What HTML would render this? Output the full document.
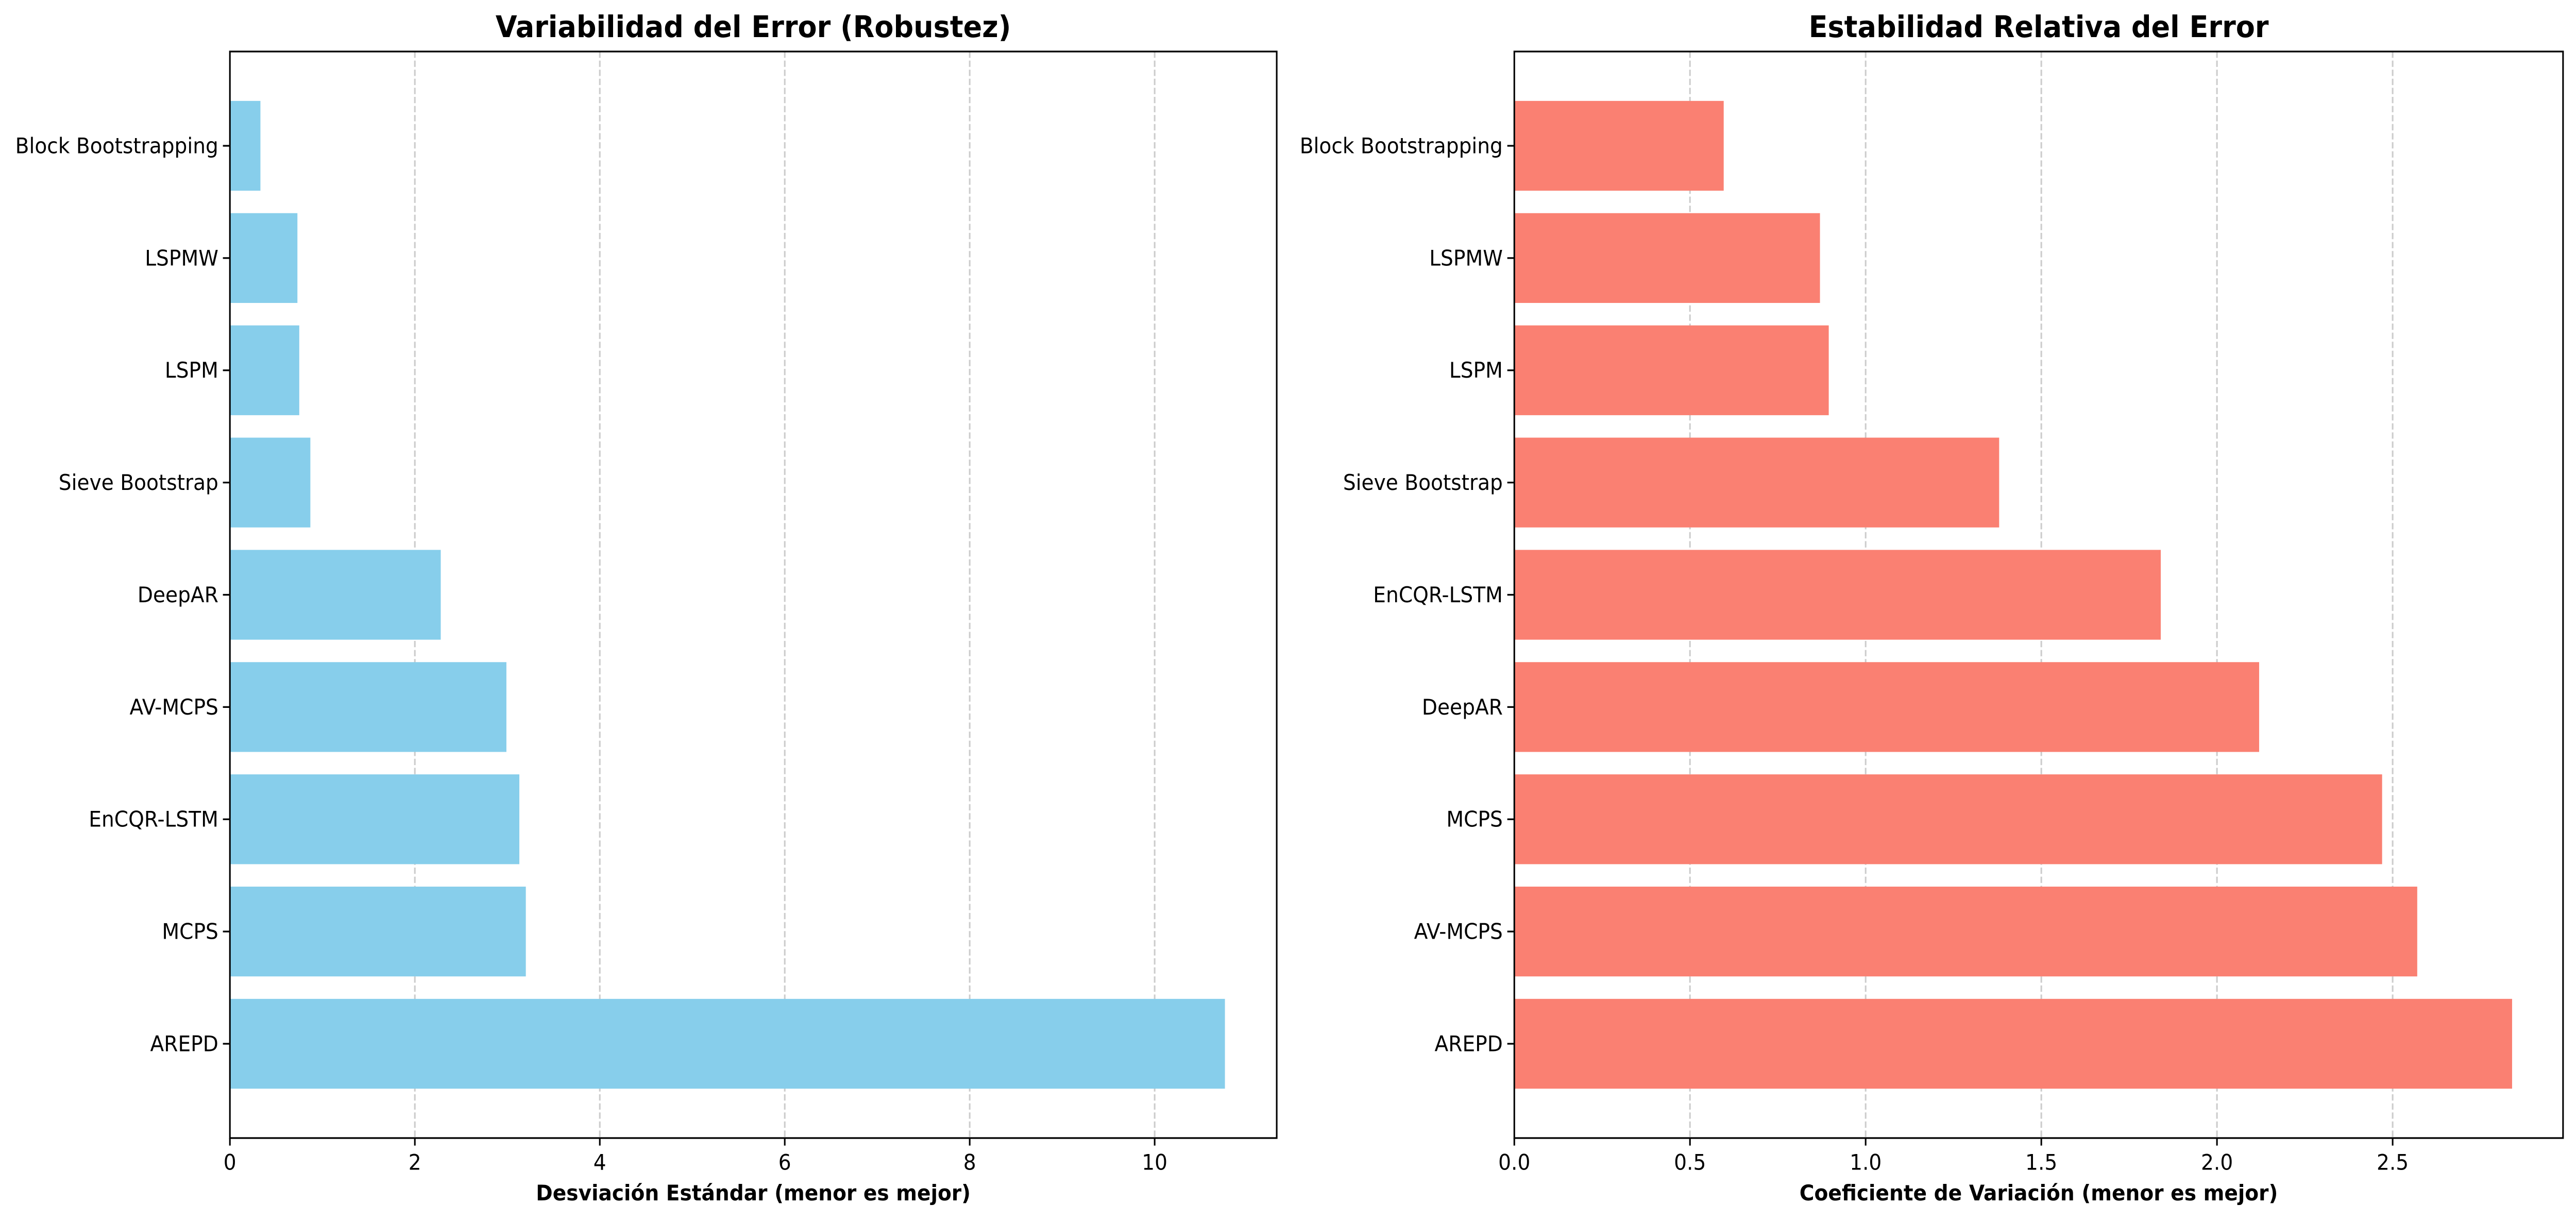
<!DOCTYPE html>
<html><head><meta charset="utf-8"><style>
html,body{margin:0;padding:0;background:#fff;width:100%;height:100%;overflow:hidden;}
#chart{display:block;width:100vw;height:100vh;}
svg text{font-family:"DejaVu Sans","Liberation Sans",sans-serif;}
</style></head><body>
<svg id="chart" viewBox="0 0 5367 2370" preserveAspectRatio="none" xmlns="http://www.w3.org/2000/svg"></svg>
<script>
const categories = ["AREPD","MCPS","EnCQR-LSTM","AV-MCPS","DeepAR","Sieve Bootstrap","LSPM","LSPMW","Block Bootstrapping"];
const stdValues = [10.76,3.2,3.13,2.99,2.28,0.87,0.75,0.73,0.33];
const cvCategories = ["AREPD","AV-MCPS","MCPS","DeepAR","EnCQR-LSTM","Sieve Bootstrap","LSPM","LSPMW","Block Bootstrapping"];
const cvValues = [2.84,2.57,2.47,2.12,1.84,1.38,0.895,0.87,0.596];
const leftTicks = [0,2,4,6,8,10];
const leftTickLabels = ["0","2","4","6","8","10"];
const rightTicks = [0,0.5,1,1.5,2,2.5];
const rightTickLabels = ["0.0","0.5","1.0","1.5","2.0","2.5"];

const NS="http://www.w3.org/2000/svg";
const svg=document.getElementById('chart');
function mk(tag,attrs,parent){const e=document.createElementNS(NS,tag);for(const k in attrs)e.setAttribute(k,attrs[k]);(parent||svg).appendChild(e);return e;}

function panel(cfg){
  const g=mk('g',{});
  
  
  const L=cfg.left,R=cfg.right,T=100,B=2209;
  const yMin=-0.84,yMax=8.84;
  const xs=v=>L+(v-0)/(cfg.xmax)*(R-L);
  const ys=v=>B-(v-yMin)/(yMax-yMin)*(B-T);
  cfg.ticks.forEach((t,i)=>{
    if(t===0)return;
    const gl=mk('line',{x1:xs(t),x2:xs(t),y1:T,y2:B,stroke:'#cccccc','stroke-width':3.3,'stroke-dasharray':'12.3,5.3'},g);
    
    
  });
  cfg.cats.forEach((c,i)=>{
    const x0=xs(0),x1=xs(cfg.vals[i]);
    const r=mk('rect',{x:x0,y:ys(i+0.4),width:x1-x0,height:ys(i-0.4)-ys(i+0.4),fill:cfg.color},g);
    
    
    const tk=mk('line',{x1:L-14.6,x2:L,y1:ys(i),y2:ys(i),stroke:'#000','stroke-width':3.3},g);
    
    
    const tl=mk('text',{x:L-24,y:ys(i),'font-size':42,'text-anchor':'end','dominant-baseline':'central',fill:'#000'},g);
    tl.textContent=c;
    
    
  });
  cfg.ticks.forEach((t,i)=>{
    const tk=mk('line',{x1:xs(t),x2:xs(t),y1:B,y2:B+14.6,stroke:'#000','stroke-width':3.3},g);
    
    
    const tl=mk('text',{x:xs(t),y:B+30,'font-size':42,'text-anchor':'middle','dominant-baseline':'hanging',fill:'#000'},g);
    tl.textContent=cfg.tickLabels[i];
    
    
  });
  const fr=mk('rect',{x:L,y:T,width:R-L,height:B-T,fill:'none',stroke:'#000','stroke-width':3.3},g);
  
  
  const ti=mk('text',{x:(L+R)/2,y:72,'font-size':58,'font-weight':'bold','text-anchor':'middle',fill:'#000'},g);
  ti.textContent=cfg.title;
  
  
  const xl=mk('text',{x:(L+R)/2,y:2330,'font-size':42,'font-weight':'bold','text-anchor':'middle',fill:'#000'},g);
  xl.textContent=cfg.xlabel;
  
  
}
panel({name:'std-panel',left:479,right:2660,xmax:11.32,cats:categories,vals:stdValues,color:'#87ceeb',ticks:leftTicks,tickLabels:leftTickLabels,title:'Variabilidad del Error (Robustez)',xlabel:'Desviación Estándar (menor es mejor)'});
panel({name:'cv-panel',left:3155,right:5340,xmax:2.985,cats:cvCategories,vals:cvValues,color:'#fa8072',ticks:rightTicks,tickLabels:rightTickLabels,title:'Estabilidad Relativa del Error',xlabel:'Coeficiente de Variación (menor es mejor)'});
</script>
</body></html>
